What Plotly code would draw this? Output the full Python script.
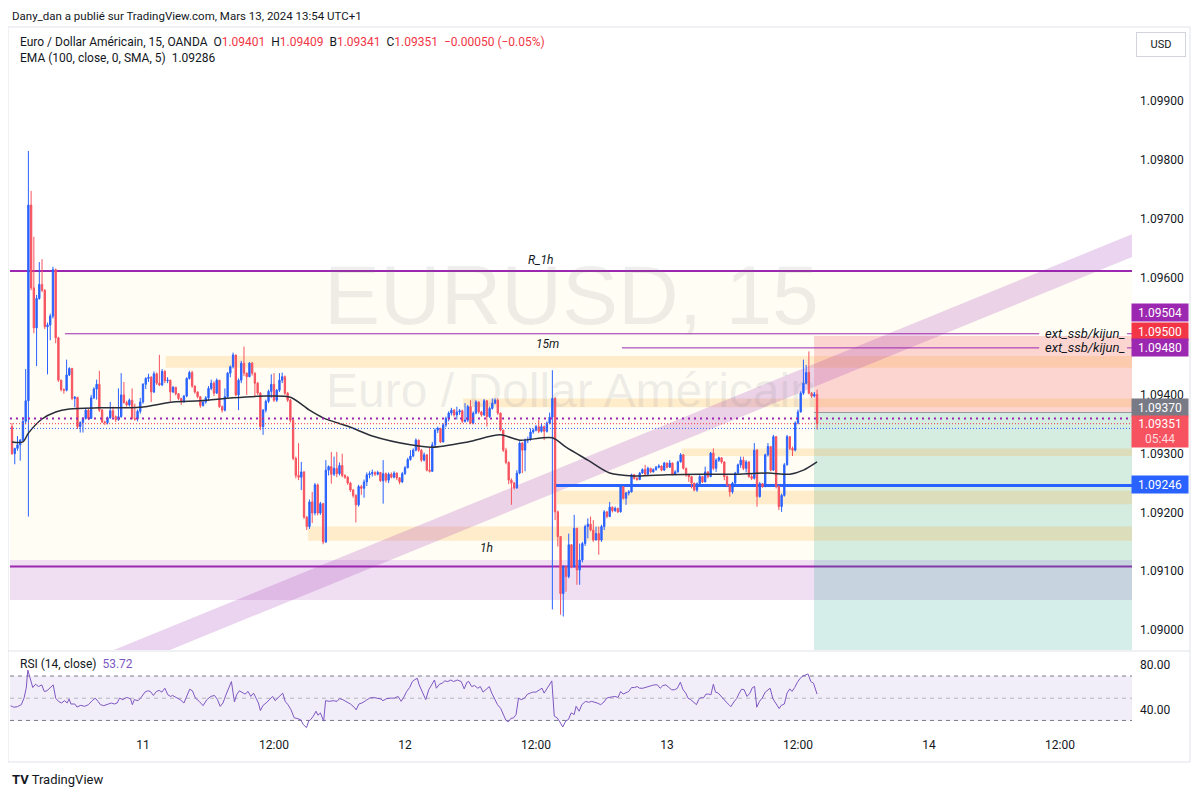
import plotly.graph_objects as go

W, H = 1201, 797
OFF = 8                      # the page body keeps an 8px margin round the figure
FW, FH = W - 2 * OFF, H - 2 * OFF

# EURUSD 15m, OANDA. Prices are kept in pips above 1.09000.
# Bars count 15-minute candles from Mon 11 Mar 2024 00:00 (UTC+1):
# -48..-9 = Fri 8 Mar 13:00-22:45, -8..-1 = Sun 10 Mar 22:00-23:45.
BASE = 1.09
PIP = 0.0001
FIRST_BAR = -48
first_open = 34.6

close_pips = [
    30.0, 30.9, 31.5, 32.3, 35.5, 39.0, 72.3, 58.2, 51.4, 56.4, 58.8, 57.8,
    51.6, 51.9, 53.4, 61.3, 49.7, 42.5, 40.9, 40.8, 43.4, 44.5, 39.4, 39.6,
    34.6, 35.3, 36.0, 37.4, 36.0, 39.5, 41.0, 41.8, 37.4, 35.4, 35.3, 36.1,
    37.3, 36.3, 35.8, 36.3, 40.0, 38.7, 38.3, 39.1, 36.0, 35.9, 37.2, 38.8,
    41.8, 42.8, 43.0, 40.5, 43.6, 42.0, 41.7, 44.0, 42.4, 42.5, 40.5, 41.3,
    40.2, 39.4, 38.8, 39.8, 42.8, 43.8, 41.5, 40.5, 39.7, 38.2, 38.8, 39.5,
    41.1, 42.0, 40.3, 42.5, 38.0, 37.4, 39.7, 43.7, 44.8, 46.8, 40.0, 42.5,
    45.4, 43.7, 43.1, 45.4, 43.7, 42.0, 40.3, 34.6, 37.4, 38.9, 40.6, 41.8,
    39.1, 40.8, 42.5, 43.1, 40.3, 39.1, 35.7, 29.2, 26.3, 26.0, 26.9, 19.2,
    17.6, 21.8, 19.9, 24.7, 19.9, 21.5, 15.0, 27.2, 27.8, 26.5, 27.5, 26.6,
    28.0, 26.3, 26.0, 25.0, 23.8, 22.9, 21.3, 24.4, 24.1, 25.2, 26.4, 26.6,
    26.8, 26.5, 26.8, 25.4, 26.6, 25.5, 26.5, 26.0, 26.7, 25.9, 25.2, 26.6,
    27.6, 29.0, 29.6, 30.6, 32.3, 30.6, 28.9, 29.8, 27.2, 27.0, 31.5, 34.0,
    34.3, 32.0, 34.9, 36.0, 36.9, 37.4, 36.6, 37.1, 37.3, 35.5, 35.7, 38.0,
    35.2, 36.9, 38.8, 37.1, 36.6, 39.0, 36.3, 37.7, 38.6, 39.1, 36.9, 34.0,
    30.6, 28.5, 25.5, 25.0, 24.2, 26.7, 31.8, 30.6, 32.3, 32.4, 33.7, 34.0,
    34.6, 33.8, 34.6, 33.8, 35.2, 36.2, 39.4, 20.1, 15.9, 6.2, 10.8, 9.1,
    14.5, 10.8, 17.3, 10.2, 11.9, 14.7, 17.6, 18.0, 17.0, 15.3, 16.4, 15.3,
    17.6, 20.1, 19.3, 20.9, 20.3, 20.7, 20.1, 24.4, 22.4, 23.3, 23.5, 26.4,
    25.8, 25.6, 26.7, 27.3, 26.5, 27.5, 26.9, 27.3, 27.7, 27.9, 27.2, 28.4,
    27.7, 28.4, 26.5, 26.9, 28.6, 29.8, 27.5, 26.4, 26.1, 25.0, 23.8, 24.9,
    26.1, 25.2, 26.9, 26.1, 30.1, 27.5, 28.9, 29.3, 28.6, 26.1, 24.7, 23.5,
    25.0, 26.7, 28.1, 28.9, 27.5, 28.6, 26.1, 25.8, 30.6, 22.7, 24.9, 24.4,
    29.8, 31.2, 27.2, 32.9, 24.4, 21.0, 22.9, 28.1, 32.9, 30.9, 30.6, 35.2,
    37.1, 40.3, 42.0, 43.8, 40.3, 39.8, 40.1, 35.1,
]

high_pips = [
    35.2, 31.0, 33.0, 32.5, 36.2, 44.4, 81.5, 74.7, 66.9, 57.0, 62.6, 63.1,
    58.0, 52.3, 53.8, 61.8, 61.5, 49.9, 42.6, 41.1, 46.0, 44.7, 44.6, 39.8,
    39.6, 35.5, 36.2, 37.6, 37.6, 40.0, 41.3, 42.6, 44.1, 37.6, 35.6, 36.3,
    38.8, 38.0, 36.5, 41.1, 43.7, 42.2, 39.0, 39.4, 41.1, 38.5, 37.5, 39.5,
    42.0, 43.0, 43.6, 43.2, 44.0, 43.8, 46.8, 44.4, 44.2, 43.0, 42.6, 41.5,
    41.3, 40.3, 39.5, 40.0, 43.0, 44.1, 44.1, 41.6, 40.6, 39.8, 39.0, 39.8,
    41.5, 42.6, 42.3, 42.8, 42.5, 38.2, 41.1, 43.9, 45.0, 47.2, 46.8, 42.8,
    45.8, 48.2, 43.8, 45.6, 45.6, 43.8, 42.2, 40.5, 37.6, 39.2, 40.9, 43.5,
    43.7, 41.0, 43.7, 43.8, 43.3, 40.5, 39.3, 35.9, 29.5, 31.8, 28.6, 27.0,
    19.4, 22.2, 23.5, 25.0, 24.9, 21.8, 21.6, 28.9, 28.0, 30.3, 29.5, 30.3,
    28.5, 30.0, 26.5, 26.2, 25.2, 24.0, 23.1, 24.7, 24.7, 25.6, 26.8, 27.0,
    27.3, 27.0, 27.1, 26.9, 28.9, 26.8, 26.8, 26.8, 27.0, 26.8, 26.0, 26.9,
    27.9, 29.3, 30.6, 30.9, 32.6, 32.4, 30.8, 30.2, 29.9, 31.0, 32.0, 34.3,
    34.6, 34.4, 35.2, 36.3, 37.2, 37.8, 37.6, 38.0, 37.6, 37.5, 38.6, 38.3,
    39.1, 37.2, 39.1, 38.9, 37.3, 39.3, 39.1, 38.0, 39.4, 39.4, 39.4, 37.0,
    34.1, 31.0, 28.7, 25.8, 25.2, 27.2, 32.1, 32.0, 32.6, 32.9, 34.3, 34.3,
    34.9, 35.7, 35.2, 34.8, 35.5, 37.0, 44.2, 39.6, 20.3, 15.9, 11.0, 10.9,
    16.4, 14.6, 19.6, 17.4, 14.7, 15.0, 17.9, 19.0, 19.3, 18.7, 17.6, 17.6,
    17.9, 20.4, 20.2, 21.8, 21.0, 21.0, 20.8, 24.6, 24.5, 23.5, 23.8, 26.6,
    26.5, 26.0, 26.9, 27.5, 28.1, 27.8, 27.6, 27.5, 27.9, 28.2, 28.0, 28.6,
    28.5, 28.9, 28.5, 27.2, 28.8, 30.1, 29.9, 27.6, 26.6, 26.2, 25.0, 25.1,
    26.4, 26.2, 27.8, 27.0, 30.3, 30.9, 29.2, 29.5, 29.4, 28.7, 26.3, 24.8,
    25.2, 26.9, 28.3, 29.5, 29.5, 28.9, 28.7, 26.5, 31.8, 30.8, 25.2, 25.0,
    30.0, 31.8, 31.3, 33.2, 33.0, 24.6, 23.2, 28.4, 33.2, 32.9, 31.2, 35.5,
    37.5, 40.6, 46.0, 45.1, 47.4, 40.5, 40.5, 40.9,
]

low_pips = [
    29.8, 28.2, 30.5, 28.8, 32.0, 35.0, 19.3, 57.8, 50.5, 44.9, 56.2, 57.5,
    51.2, 43.5, 49.3, 53.0, 48.8, 42.2, 40.6, 40.2, 40.6, 43.2, 39.1, 37.9,
    34.2, 33.6, 33.6, 35.8, 35.7, 35.9, 39.3, 39.2, 37.1, 35.2, 34.9, 35.0,
    35.9, 36.0, 35.4, 35.6, 36.1, 38.5, 38.0, 38.0, 35.8, 35.6, 35.5, 36.8,
    38.5, 41.0, 42.2, 38.8, 40.3, 41.7, 41.5, 41.5, 42.0, 42.0, 38.9, 40.3,
    39.9, 39.1, 38.3, 38.7, 39.6, 42.6, 41.2, 40.2, 39.4, 37.8, 38.0, 38.5,
    39.0, 40.8, 39.8, 40.2, 37.8, 37.0, 37.2, 39.5, 43.0, 44.5, 39.8, 37.4,
    42.0, 43.2, 40.0, 43.0, 43.3, 39.7, 40.0, 34.0, 33.2, 37.0, 38.6, 39.5,
    38.8, 38.8, 40.5, 42.0, 40.0, 38.8, 35.3, 28.9, 25.8, 25.5, 23.8, 18.9,
    17.0, 17.2, 18.2, 19.5, 19.5, 19.6, 14.6, 14.8, 26.3, 24.9, 26.2, 26.0,
    26.3, 26.0, 25.7, 24.7, 23.5, 22.5, 18.3, 21.0, 23.0, 22.5, 24.5, 25.8,
    26.1, 26.2, 26.3, 25.2, 21.5, 25.1, 25.0, 25.8, 25.8, 25.5, 24.8, 25.0,
    26.4, 27.5, 28.8, 29.4, 30.4, 30.3, 28.6, 28.7, 27.0, 26.8, 26.9, 31.0,
    33.5, 31.8, 31.9, 34.5, 35.5, 36.5, 36.3, 35.8, 36.6, 35.2, 35.3, 35.4,
    35.0, 35.0, 36.7, 36.8, 36.3, 36.4, 34.6, 36.1, 37.5, 38.4, 36.6, 33.8,
    30.3, 28.2, 24.8, 21.3, 23.9, 24.0, 26.5, 26.7, 27.0, 31.8, 32.2, 33.4,
    33.8, 33.5, 33.6, 32.3, 33.6, 35.0, 3.5, 18.7, 14.2, 2.6, 2.3, 6.5,
    8.8, 10.5, 10.6, 7.7, 7.7, 11.5, 14.3, 15.6, 16.8, 15.0, 15.3, 12.8,
    15.0, 17.0, 19.0, 19.2, 20.0, 20.1, 19.9, 20.0, 22.2, 21.3, 22.9, 23.4,
    25.6, 25.4, 25.5, 26.6, 26.3, 26.4, 26.7, 26.8, 27.1, 27.5, 27.0, 27.1,
    27.5, 27.6, 26.3, 26.3, 26.8, 28.5, 27.3, 26.1, 25.2, 24.1, 23.6, 23.5,
    24.6, 25.0, 25.1, 25.8, 26.0, 27.2, 26.9, 28.6, 28.3, 25.5, 24.4, 22.7,
    23.2, 24.8, 26.6, 27.6, 27.2, 26.8, 25.9, 25.5, 25.6, 21.0, 22.5, 24.2,
    24.3, 29.5, 27.0, 27.1, 24.1, 20.4, 20.1, 22.7, 28.0, 30.6, 29.6, 30.4,
    35.0, 37.0, 40.0, 41.8, 40.1, 39.5, 39.6, 34.1,
]

# EMA (100, close, 0, SMA, 5) at these bars
ema_bar = [-48, -44, -42, -37, -32, -27, -16, -1, 11, 21, 33, 45, 54, 61, 66,
           76, 84, 98, 106, 119, 131, 138, 150, 155, 163, 171, 180, 192, 204,
           216, 229, 237, 242, 247]
ema_pips = [32.0, 32.0, 33.5, 35.9, 37.1, 37.6, 37.8, 37.9, 38.8, 39.0, 39.5,
            39.8, 39.6, 37.4, 36.1, 34.5, 33.0, 31.5, 31.1, 32.0, 33.2, 32.3,
            32.7, 31.1, 28.9, 26.7, 26.2, 26.4, 26.5, 26.5, 26.7, 26.5, 27.2,
            28.6]

# RSI (14, close), vertices of the drawn line
rsi_bar = [
    -48.5, -47.4, -46.0, -44.6, -43.6, -42.8, -42.2, -41.4, -40.4, -39.4,
    -38.3, -37.1, -36.2, -35.2, -34.1, -32.9, -32.0, -31.0, -29.9, -28.7,
    -27.8, -27.1, -26.4, -25.0, -24.2, -22.8, -21.4, -20.0, -18.6, -17.5,
    -16.5, -15.6, -14.4, -13.0, -11.6, -10.5, -9.5, -8.6, -7.4, -6.0,
    -4.6, -3.9, -3.2, -1.8, -0.7, 0.7, 1.7, 2.7, 3.8, 4.9,
    5.9, 6.9, 8.0, 9.1, 10.1, 10.8, 12.2, 13.6, 15.0, 16.0,
    17.1, 18.1, 19.2, 20.6, 22.0, 23.4, 24.8, 26.2, 27.3, 28.3,
    29.3, 30.4, 31.4, 32.4, 33.5, 34.3, 35.3, 36.3, 37.4, 38.5,
    39.5, 40.5, 41.4, 42.3, 43.0, 44.0, 45.1, 46.5, 47.5, 48.4,
    49.3, 50.3, 51.2, 52.1, 53.1, 54.2, 55.4, 56.4, 57.8, 58.7,
    59.9, 60.7, 61.5, 62.4, 63.4, 64.1, 65.0, 66.2, 66.9, 68.3,
    69.7, 71.1, 72.0, 73.2, 74.6, 76.0, 77.4, 78.1, 79.1, 80.2,
    81.6, 83.0, 84.4, 85.8, 87.2, 87.9, 89.3, 90.7, 92.1, 93.5,
    94.6, 95.6, 96.6, 97.7, 98.7, 99.4, 100.5, 101.2, 102.3, 103.6,
    104.7, 106.1, 106.8, 107.5, 108.6, 109.6, 110.6, 111.7, 112.8, 113.8,
    115.2, 116.6, 117.7, 118.7, 119.4, 120.4, 121.5, 122.7, 123.6, 124.6,
    125.7, 126.9, 127.8, 129.0, 129.9, 131.1, 132.0, 133.0, 133.9, 134.8,
    135.8, 136.7, 137.6, 138.6, 139.8, 140.9, 141.9, 142.8, 144.0, 145.1,
    146.2, 147.0, 148.2, 149.1, 149.8, 150.7, 151.7, 152.6, 153.8, 154.9,
    155.9, 156.9, 158.0, 158.7, 159.8, 160.8, 162.2, 163.3, 164.4, 166.4,
    167.7, 168.9, 169.9, 170.8, 172.0, 172.9, 174.1, 175.0, 175.9, 177.0,
    178.0, 179.0, 180.1, 181.1, 182.0, 183.2, 184.3, 185.3, 186.4, 187.4,
    188.5, 189.5, 190.5, 191.6, 192.7, 193.7, 194.8, 195.8, 196.9, 197.9,
    198.9, 199.7, 200.7, 201.8, 202.8, 203.6, 204.5, 205.3, 206.3, 207.3,
    208.1, 209.0, 209.8, 210.8, 211.8, 212.6, 213.7, 214.7, 215.4, 216.5,
    217.5, 218.5, 219.3, 220.3, 221.3, 222.4, 223.3, 224.1, 224.9, 225.9,
    226.9, 228.0, 229.0, 229.8, 230.8, 232.0, 233.1, 233.9, 235.0, 236.0,
    237.0, 237.8, 238.8, 239.8, 240.8, 241.8, 242.7, 243.7, 244.7, 245.7,
    247.0,
]
rsi_val = [
    43.3, 41.9, 42.4, 44.2, 50.1, 59.0, 75.3, 67.9, 59.6, 62.6,
    60.5, 62.0, 56.1, 56.7, 59.0, 62.0, 50.1, 47.2, 45.7, 47.8,
    45.7, 49.3, 44.8, 44.8, 42.1, 43.6, 42.7, 44.2, 47.8, 50.1,
    47.2, 44.2, 43.3, 44.2, 45.7, 44.8, 45.7, 50.1, 48.7, 50.7,
    49.6, 44.2, 48.7, 47.8, 50.7, 55.5, 56.7, 56.1, 52.5, 56.1,
    57.0, 55.5, 59.0, 53.1, 51.6, 52.5, 50.7, 48.7, 45.7, 51.6,
    58.1, 56.7, 50.1, 47.2, 43.3, 48.7, 51.6, 52.5, 48.7, 42.7,
    45.7, 53.1, 59.0, 65.0, 46.6, 53.1, 56.7, 55.5, 53.7, 56.1,
    51.6, 54.6, 50.1, 45.7, 38.9, 43.6, 45.7, 48.7, 51.6, 47.8,
    50.1, 53.1, 54.6, 47.2, 44.2, 39.8, 32.4, 31.8, 30.6, 26.4,
    23.5, 29.4, 30.9, 33.9, 38.3, 34.7, 36.8, 29.4, 47.8, 47.2,
    47.8, 47.2, 49.6, 48.7, 46.6, 44.8, 41.9, 39.5, 44.8, 45.7,
    47.8, 50.1, 50.7, 50.1, 49.3, 47.8, 49.6, 50.1, 50.1, 51.6,
    47.2, 51.0, 56.1, 59.6, 65.0, 66.4, 67.9, 62.0, 56.1, 48.7,
    57.6, 64.1, 66.4, 59.0, 62.6, 63.5, 65.6, 65.0, 66.4, 65.0,
    66.4, 65.0, 58.4, 64.4, 65.0, 60.5, 61.4, 59.0, 60.5, 55.5,
    58.1, 60.5, 54.6, 48.7, 44.2, 40.7, 35.3, 30.0, 28.8, 31.8,
    32.4, 35.3, 50.1, 48.7, 50.1, 53.7, 54.6, 55.5, 55.5, 57.6,
    59.0, 54.6, 59.0, 62.6, 65.6, 33.9, 32.4, 29.4, 24.1, 29.4,
    30.9, 36.8, 35.3, 42.7, 38.3, 44.2, 47.2, 46.3, 47.2, 45.7,
    44.2, 46.6, 50.1, 50.7, 51.0, 51.6, 50.7, 56.1, 53.7, 55.2,
    56.1, 59.6, 59.6, 60.5, 59.0, 59.0, 59.6, 60.5, 61.4, 62.0,
    62.0, 59.0, 61.4, 62.0, 59.6, 57.6, 57.6, 59.0, 64.4, 57.6,
    54.6, 50.1, 48.7, 46.6, 44.2, 48.7, 50.7, 50.1, 53.7, 53.7,
    53.1, 62.6, 55.5, 54.6, 51.6, 49.6, 46.6, 44.2, 42.4, 46.6,
    49.6, 54.6, 58.1, 57.6, 51.6, 54.6, 59.6, 60.5, 41.9, 47.2,
    50.1, 55.5, 57.6, 59.0, 49.6, 44.8, 40.7, 43.6, 44.8, 54.6,
    58.4, 56.1, 59.6, 64.4, 67.9, 70.0, 70.9, 71.8, 65.0, 63.5,
    53.7,
]

# time axis labels (bar numbers) and price axis ticks (1.09500 sits under the labels)
tick_bars = [0, 48, 96, 144, 192, 240, 288, 336]
tick_text = ["11", "12:00", "12", "12:00", "13", "12:00", "14", "12:00"]
price_ticks = [1.090, 1.091, 1.092, 1.093, 1.094, 1.096, 1.097, 1.098, 1.099]

# drawings (pips)
r_1h = 61.1
level_1h = 10.8
cream_zone = (11.9, 61.1)
lilac_zone = (5.1, 11.9)
# (first bar, low, high)
peach_zones = [(8.3, 44.6, 46.6), (117.3, 37.9, 39.4), (197.4, 29.6, 30.9),
               (151.6, 21.4, 23.7), (60.5, 15.2, 17.6)]
ssb_lines = [(-28.6, 50.4), (175.5, 48.0)]
ssb_text_gap = (328.4, 360.6)     # bars hidden behind the "ext_ssb/kijun_" texts
blue_level = (151.3, 24.6)
position = dict(start=245.9, stop=50.0, entry=37.0, target=-10.0)
dotted = [(36.0, "#9c27b0", 2, "2px,4px"), (35.1, "#f23645", 1, "1px,2px"),
          (34.3, "#2962ff", 1, "1px,2px")]
band_top = [(-30.0, -7.06), (362.4, 67.34)]
band_width = 3.9

UP = "#2962ff"
DOWN = "#f7525f"
TXT = "#131722"
FONT = "Roboto, Liberation Sans, sans-serif"

X_RANGE = [-48.74, 362.4]


def price(p):
    return BASE + p * PIP


def fx(x):
    return (x - OFF) / FW


def fy(y):
    return 1 - (y - OFF) / FH


bars = list(range(FIRST_BAR, FIRST_BAR + len(close_pips)))
open_pips = [first_open] + close_pips[:-1]
hi = [max(h, o, c) for h, o, c in zip(high_pips, open_pips, close_pips)]
lo = [min(l, o, c) for l, o, c in zip(low_pips, open_pips, close_pips)]

fig = go.Figure()
fig.add_trace(go.Candlestick(
    x=bars,
    open=[price(v) for v in open_pips],
    high=[price(v) for v in hi],
    low=[price(v) for v in lo],
    close=[price(v) for v in close_pips],
    increasing=dict(line=dict(color=UP, width=1), fillcolor=UP),
    decreasing=dict(line=dict(color=DOWN, width=1), fillcolor=DOWN),
    whiskerwidth=0, hoverinfo="skip", xaxis="x", yaxis="y",
))
fig.add_trace(go.Scatter(
    x=ema_bar, y=[price(v) for v in ema_pips], mode="lines",
    line=dict(color="#2a2e39", width=1.5, shape="spline", smoothing=0.8),
    hoverinfo="skip", xaxis="x", yaxis="y",
))
fig.add_trace(go.Scatter(
    x=rsi_bar, y=rsi_val, mode="lines", line=dict(color="#7e57c2", width=1),
    hoverinfo="skip", xaxis="x2", yaxis="y2",
))

shapes = []


def hzone(y0, y1, color, x0=None):
    if x0 is None:
        shapes.append(dict(type="rect", xref="x domain", yref="y", x0=0, x1=1,
                           y0=price(y0), y1=price(y1), fillcolor=color,
                           line_width=0, layer="below"))
    else:
        shapes.append(dict(type="rect", xref="x", yref="y", x0=x0, x1=X_RANGE[1],
                           y0=price(y0), y1=price(y1), fillcolor=color,
                           line_width=0, layer="below"))


def hline(y, color, width, x0=None, x1=None, dash="solid", layer="below"):
    if x0 is None:
        shapes.append(dict(type="line", xref="x domain", yref="y", x0=0, x1=1,
                           y0=price(y), y1=price(y),
                           line=dict(color=color, width=width, dash=dash), layer=layer))
    else:
        shapes.append(dict(type="line", xref="x", yref="y", x0=x0,
                           x1=X_RANGE[1] if x1 is None else x1,
                           y0=price(y), y1=price(y),
                           line=dict(color=color, width=width, dash=dash), layer=layer))


hzone(*cream_zone, "#fffdf4")
hzone(*lilac_zone, "rgba(156,39,176,0.15)")
hzone(position["entry"], position["stop"], "rgba(242,54,69,0.2)", x0=position["start"])
hzone(position["target"], position["entry"], "rgba(8,153,129,0.17)", x0=position["start"])
for x0, lo_, hi_ in peach_zones:
    hzone(lo_, hi_, "rgba(255,152,0,0.17)", x0=x0)

(bx0, by0), (bx1, by1) = band_top
shapes.append(dict(
    type="path", xref="x", yref="y", layer="below", line_width=0,
    fillcolor="rgba(156,39,176,0.2)",
    path=(f"M {bx0},{price(by0)} L {bx1},{price(by1)} "
          f"L {bx1},{price(by1 - band_width)} L {bx0},{price(by0 - band_width)} Z"),
))

hline(r_1h, "#9c27b0", 2)
hline(level_1h, "#9c27b0", 2)
for x0, y in ssb_lines:
    hline(y, "#9c27b0", 1, x0=x0, x1=ssb_text_gap[0])
    hline(y, "#9c27b0", 1, x0=ssb_text_gap[1])
hline(blue_level[1], "#2962ff", 3, x0=blue_level[0])
hline(position["entry"], "#9598a1", 1, x0=position["start"])
for y, col, w, dash in dotted:
    hline(y, col, w, dash=dash, layer="above")

# RSI pane
shapes.append(dict(type="rect", xref="x2 domain", yref="y2", x0=0, x1=1, y0=30, y1=70,
                   fillcolor="rgba(126,87,194,0.1)", line_width=0, layer="below"))
for lvl, col in [(70, "#787b86"), (50, "rgba(120,123,134,0.5)"), (30, "#787b86")]:
    shapes.append(dict(type="line", xref="x2 domain", yref="y2", x0=0, x1=1, y0=lvl, y1=lvl,
                       line=dict(color=col, width=1, dash="4px,4px"), layer="below"))

# frame and pane separator
shapes.append(dict(type="rect", xref="paper", yref="paper", x0=fx(8), x1=fx(1190),
                   y0=fy(762), y1=fy(27), line=dict(color="#e0e3eb", width=1)))
shapes.append(dict(type="line", xref="paper", yref="paper", x0=fx(8), x1=fx(1190),
                   y0=fy(651), y1=fy(651), line=dict(color="#e0e3eb", width=1)))

ann = []


def text(x, y, s, size=12, color=TXT, xanchor="left", family=FONT, yanchor="middle"):
    ann.append(dict(xref="paper", yref="paper", x=fx(x), y=fy(y), text=s,
                    showarrow=False, xanchor=xanchor, yanchor=yanchor,
                    font=dict(family=family, size=size, color=color)))


def red(s):
    return f"<span style='color:#f23645'>{s}</span>"


sp = "\u00a0\u00a0"
text(10, 8, "Dany_dan a publié sur TradingView.com, Mars 13, 2024 13:54 UTC+1",
     size=11.5, yanchor="top")
ann[-1]["yshift"] = 1
text(18, 42, f"Euro / Dollar Américain, 15, OANDA{sp}O{red('1.09401')}{sp}H{red('1.09409')}"
             f"{sp}B{red('1.09341')}{sp}C{red('1.09351')}{sp}{red('−0.00050 (−0.05%)')}")
text(18, 58, f"EMA (100, close, 0, SMA, 5){sp}1.09286")
text(18, 664, f"RSI (14, close){sp}<span style='color:#7e57c2'>53.72</span>")

# watermark
text(571, 295, "EURUSD, 15", size=84, color="rgba(120,123,134,0.13)",
     xanchor="center", family="Liberation Sans")
text(571, 390, "Euro / Dollar Américain", size=48, color="rgba(120,123,134,0.13)",
     xanchor="center", family="Liberation Sans")

# footer logo
text(10, 779, "<b>TV</b> TradingView", size=13)

# USD box
ann.append(dict(xref="paper", yref="paper", x=fx(1161), y=fy(44.5), text="USD",
                showarrow=False, xanchor="center", yanchor="middle",
                font=dict(family=FONT, size=11, color=TXT),
                bgcolor="white", bordercolor="#d1d4dc", borderwidth=1, borderpad=3,
                width=42, height=17))

# right-axis value boxes
right_labels = [("1.09504", 50.4, "#9c27b0", 21), ("1.09500", 50.0, "#f23645", 5),
                ("1.09480", 48.0, "#9c27b0", 0), ("1.09370", 37.0, "#787b86", 5),
                ("1.09246", 24.6, "#2962ff", 1)]
for s, y, col, shift in right_labels:
    ann.append(dict(xref="paper", yref="y", x=fx(1131), y=price(y), yshift=shift,
                    text=s, showarrow=False, xanchor="left", yanchor="middle",
                    font=dict(family=FONT, size=12, color="white"), bgcolor=col,
                    borderpad=2, width=52, height=13, align="center"))
ann.append(dict(xref="paper", yref="y", x=fx(1131), y=price(35.1), yshift=-8,
                text="1.09351<br><span style='color:rgba(255,255,255,0.8)'>05:44</span>",
                showarrow=False, xanchor="left", yanchor="middle",
                font=dict(family=FONT, size=12, color="white"), bgcolor="#f7525f",
                borderpad=2, width=52, height=27, align="center"))

# drawing labels
for s, xb, y, shift in [("R_1h", 145.8, r_1h, 2), ("15m", 148.4, 46.6, 3), ("1h", 125.7, 11.9, 3)]:
    ann.append(dict(xref="x", yref="y", x=xb, y=price(y), yshift=shift, text=f"<i>{s}</i>",
                    showarrow=False, xanchor="center", yanchor="bottom",
                    font=dict(family=FONT, size=12, color=TXT)))
for x0, y in ssb_lines:
    ann.append(dict(xref="paper", yref="y", x=fx(1126), y=price(y), text="<i>ext_ssb/kijun_</i>",
                    showarrow=False, xanchor="right", yanchor="middle", borderpad=0,
                    font=dict(family=FONT, size=13, color=TXT)))

fig.update_layout(
    width=FW, height=FH, margin=dict(l=0, r=0, t=0, b=0),
    paper_bgcolor="white", plot_bgcolor="white", showlegend=False, hovermode=False,
    font=dict(family=FONT, size=12, color=TXT),
    shapes=shapes, annotations=ann,
    xaxis=dict(domain=[fx(10), fx(1132)], range=X_RANGE, anchor="y", showgrid=False,
               zeroline=False, showticklabels=False, rangeslider=dict(visible=False)),
    yaxis=dict(domain=[fy(650), fy(28)], anchor="x", side="right",
               range=[price(-3.40), price(102.42)], tickvals=price_ticks,
               ticktext=[f"{v:.5f}" for v in price_ticks], showgrid=False, zeroline=False,
               tickfont=dict(size=12, color=TXT), ticks="", ticklabelstandoff=7),
    xaxis2=dict(domain=[fx(10), fx(1132)], range=X_RANGE, anchor="y2", matches="x",
                showgrid=False, zeroline=False, tickvals=tick_bars, ticktext=tick_text,
                tickfont=dict(size=12, color=TXT), ticks=""),
    yaxis2=dict(domain=[fy(736), fy(652)], anchor="x2", side="right",
                range=[16.0, 91.6], tickvals=[40, 80], ticktext=["40.00", "80.00"],
                showgrid=False, zeroline=False, tickfont=dict(size=12, color=TXT), ticks="",
                ticklabelstandoff=7),
)

fig.write_html("out.html")
